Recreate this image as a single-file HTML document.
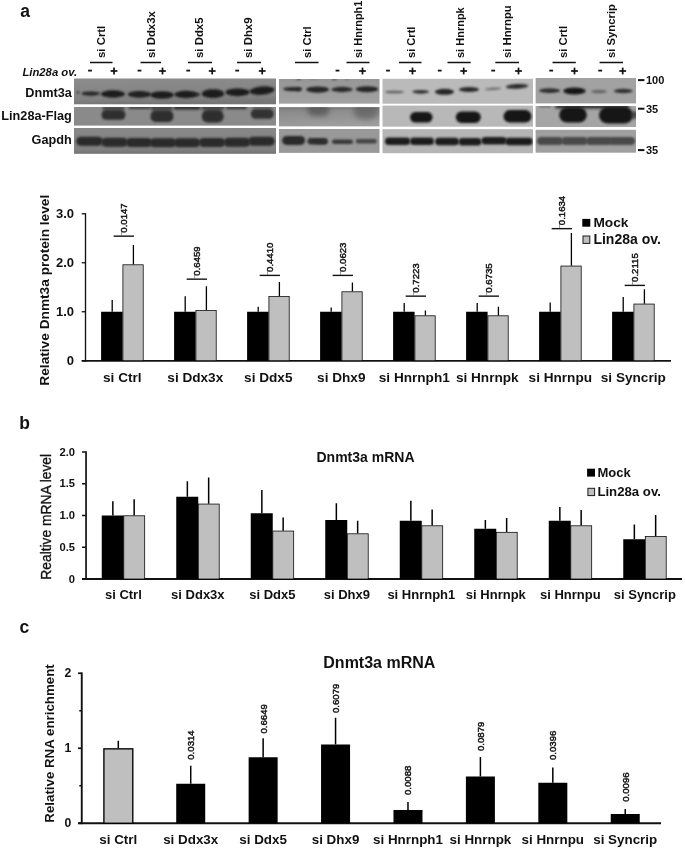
<!DOCTYPE html>
<html lang="en"><head><meta charset="utf-8"><title>Figure</title>
<style>
html,body{margin:0;padding:0;background:#fff;}
body{width:685px;height:849px;overflow:hidden;}
svg{display:block;filter:grayscale(1);font-family:'Liberation Sans', Arial, Helvetica, sans-serif;}
</style></head><body>
<svg width="685" height="849" viewBox="0 0 685 849">
<defs>
<filter id="b1" x="-30%" y="-80%" width="160%" height="260%"><feGaussianBlur stdDeviation="0.9"/></filter>
<filter id="b2" x="-30%" y="-150%" width="160%" height="400%"><feGaussianBlur stdDeviation="1.4"/></filter>
<filter id="b3" x="-40%" y="-100%" width="180%" height="300%"><feGaussianBlur stdDeviation="2.6"/></filter>
<linearGradient id="g21" x1="0" y1="0" x2="0" y2="1"><stop offset="0" stop-color="#969696"/><stop offset="1" stop-color="#a2a2a2"/></linearGradient>
<linearGradient id="g22" x1="0" y1="0" x2="0.3" y2="1"><stop offset="0" stop-color="#858585"/><stop offset="1" stop-color="#9d9d9d"/></linearGradient>
<linearGradient id="g11" x1="0" y1="0" x2="0.15" y2="1"><stop offset="0" stop-color="#8c8c8c"/><stop offset="0.8" stop-color="#828282"/><stop offset="1" stop-color="#767676"/></linearGradient>
<linearGradient id="g13" x1="0" y1="0" x2="0" y2="1"><stop offset="0" stop-color="#888888"/><stop offset="0.8" stop-color="#828282"/><stop offset="1" stop-color="#747474"/></linearGradient>
</defs>
<rect width="685" height="849" fill="#fff"/>
<clipPath id="cp10"><rect x="74.0" y="78.5" width="202.0" height="25.799999999999997"/></clipPath>
<clipPath id="cp11"><rect x="74.0" y="107" width="202.0" height="18.599999999999994"/></clipPath>
<clipPath id="cp12"><rect x="74.0" y="128" width="202.0" height="25.80000000000001"/></clipPath>
<clipPath id="cp20"><rect x="279" y="79" width="100.5" height="24.700000000000003"/></clipPath>
<clipPath id="cp21"><rect x="279" y="107.2" width="100.5" height="19.200000000000003"/></clipPath>
<clipPath id="cp22"><rect x="279" y="129" width="100.5" height="23.900000000000006"/></clipPath>
<clipPath id="cp30"><rect x="382.5" y="78.8" width="150.5" height="24.900000000000006"/></clipPath>
<clipPath id="cp31"><rect x="382.5" y="105.6" width="150.5" height="21.10000000000001"/></clipPath>
<clipPath id="cp32"><rect x="382.5" y="129.2" width="150.5" height="24.0"/></clipPath>
<clipPath id="cp40"><rect x="535.6" y="78" width="100.39999999999998" height="25.400000000000006"/></clipPath>
<clipPath id="cp41"><rect x="535.6" y="106" width="100.39999999999998" height="21"/></clipPath>
<clipPath id="cp42"><rect x="535.6" y="129.8" width="100.39999999999998" height="22.899999999999977"/></clipPath>
<rect x="74.00" y="78.50" width="202.00" height="25.80" fill="url(#g11)"/>
<g clip-path="url(#cp10)">
<rect x="76.90" y="91.40" width="2.20" height="2.20" rx="1.10" fill="#222" opacity="1" filter="url(#b1)"/>
<ellipse cx="90.70" cy="93.60" rx="9.30" ry="2.15" fill="#262626" opacity="1.0" filter="url(#b1)"/>
<ellipse cx="113.00" cy="94.00" rx="12.05" ry="3.65" fill="#1c1c1c" opacity="1.0" filter="url(#b1)"/>
<ellipse cx="139.50" cy="94.40" rx="11.80" ry="3.35" fill="#202020" opacity="1.0" filter="url(#b1)"/>
<ellipse cx="162.00" cy="95.00" rx="11.80" ry="3.75" fill="#1c1c1c" opacity="1.0" filter="url(#b1)"/>
<ellipse cx="186.00" cy="94.50" rx="11.80" ry="3.65" fill="#1c1c1c" opacity="1.0" filter="url(#b1)"/>
<rect x="192.00" y="93.35" width="8.00" height="2.50" rx="1.25" fill="#2a2a2a" opacity="1.0" filter="url(#b1)"/>
<ellipse cx="213.00" cy="93.70" rx="11.30" ry="4.35" fill="#1a1a1a" opacity="1.0" filter="url(#b1)"/>
<ellipse cx="237.50" cy="92.30" rx="12.05" ry="3.85" fill="#1c1c1c" opacity="1.0" filter="url(#b1)"/>
<ellipse cx="262.00" cy="90.60" rx="12.55" ry="4.15" fill="#1a1a1a" opacity="1.0" filter="url(#b1)" transform="rotate(-5 262 90.6)"/>
</g>
<rect x="74.00" y="107.00" width="202.00" height="18.60" fill="#8a8a8a"/>
<g clip-path="url(#cp11)">
<rect x="128.50" y="105.60" width="22.00" height="3.40" rx="1.70" fill="#383838" opacity="0.85" filter="url(#b1)"/>
<rect x="173.50" y="105.50" width="27.00" height="4.20" rx="2.10" fill="#333" opacity="0.95" filter="url(#b1)"/>
<rect x="226.00" y="105.60" width="21.00" height="3.60" rx="1.80" fill="#383838" opacity="0.9" filter="url(#b1)"/>
<rect x="102.50" y="105.70" width="22.00" height="3.00" rx="1.50" fill="#444" opacity="0.7" filter="url(#b1)"/>
<rect x="150.50" y="105.50" width="22.00" height="3.60" rx="1.80" fill="#383838" opacity="0.9" filter="url(#b1)"/>
<rect x="201.50" y="105.50" width="23.00" height="3.60" rx="1.80" fill="#383838" opacity="0.9" filter="url(#b1)"/>
<rect x="252.00" y="105.80" width="20.00" height="2.40" rx="1.20" fill="#444" opacity="0.5" filter="url(#b1)"/>
<rect x="103.00" y="106.00" width="21.00" height="8.00" rx="4.00" fill="#444" opacity="0.75" filter="url(#b2)"/>
<rect x="152.00" y="106.50" width="20.00" height="8.00" rx="4.00" fill="#444" opacity="0.75" filter="url(#b2)"/>
<rect x="203.20" y="106.50" width="19.00" height="8.00" rx="4.00" fill="#444" opacity="0.75" filter="url(#b2)"/>
<rect x="252.80" y="107.00" width="19.00" height="5.00" rx="2.50" fill="#555" opacity="0.5" filter="url(#b2)"/>
<rect x="101.50" y="110.40" width="24.00" height="9.40" rx="4.70" fill="#2e2e2e" opacity="1.0" filter="url(#b1)"/>
<rect x="150.50" y="110.70" width="23.00" height="11.40" rx="5.70" fill="#2e2e2e" opacity="1.0" filter="url(#b1)"/>
<rect x="201.70" y="110.40" width="22.00" height="12.00" rx="6.00" fill="#2e2e2e" opacity="1.0" filter="url(#b1)"/>
<rect x="250.80" y="109.20" width="23.00" height="9.60" rx="4.80" fill="#303030" opacity="1.0" filter="url(#b1)"/>
</g>
<rect x="74.00" y="128.00" width="202.00" height="25.80" fill="url(#g13)"/>
<g clip-path="url(#cp12)">
<rect x="76.25" y="136.80" width="26.50" height="9.00" rx="4.50" fill="#2a2a2a" opacity="1.0" filter="url(#b1)"/>
<rect x="101.25" y="137.80" width="26.50" height="9.00" rx="4.50" fill="#2a2a2a" opacity="1.0" filter="url(#b1)"/>
<rect x="125.75" y="138.10" width="26.50" height="9.00" rx="4.50" fill="#2a2a2a" opacity="1.0" filter="url(#b1)"/>
<rect x="149.75" y="138.30" width="26.50" height="9.00" rx="4.50" fill="#2a2a2a" opacity="1.0" filter="url(#b1)"/>
<rect x="173.75" y="138.30" width="26.50" height="9.00" rx="4.50" fill="#2a2a2a" opacity="1.0" filter="url(#b1)"/>
<rect x="198.75" y="138.10" width="26.50" height="9.00" rx="4.50" fill="#2a2a2a" opacity="1.0" filter="url(#b1)"/>
<rect x="223.75" y="137.70" width="26.50" height="9.00" rx="4.50" fill="#2a2a2a" opacity="1.0" filter="url(#b1)"/>
<rect x="248.25" y="136.70" width="26.50" height="9.00" rx="4.50" fill="#2a2a2a" opacity="1.0" filter="url(#b1)"/>
</g>
<rect x="279.00" y="79.00" width="100.50" height="24.70" fill="url(#g21)"/>
<g clip-path="url(#cp20)">
<ellipse cx="292.60" cy="89.10" rx="9.70" ry="2.15" fill="#2c2c2c" opacity="1.0" filter="url(#b1)"/>
<rect x="296.00" y="87.30" width="5.00" height="4.20" rx="2.10" fill="#2c2c2c" opacity="0.8" filter="url(#b1)"/>
<ellipse cx="317.60" cy="89.60" rx="11.55" ry="3.15" fill="#262626" opacity="1.0" filter="url(#b1)"/>
<ellipse cx="342.00" cy="89.50" rx="10.60" ry="2.65" fill="#2a2a2a" opacity="1.0" filter="url(#b1)"/>
<ellipse cx="367.00" cy="89.20" rx="11.30" ry="2.95" fill="#282828" opacity="1.0" filter="url(#b1)"/>
<rect x="296.50" y="78.30" width="4.00" height="1.80" rx="0.90" fill="#333" opacity="0.9" filter="url(#b1)"/>
<rect x="332.50" y="78.30" width="4.00" height="1.80" rx="0.90" fill="#333" opacity="0.9" filter="url(#b1)"/>
<rect x="345.00" y="78.50" width="4.00" height="1.40" rx="0.70" fill="#555" opacity="0.6" filter="url(#b1)"/>
<rect x="309.00" y="78.60" width="8.00" height="1.20" rx="0.60" fill="#666" opacity="0.5" filter="url(#b1)"/>
</g>
<rect x="279.00" y="107.20" width="100.50" height="19.20" fill="url(#g22)"/>
<g clip-path="url(#cp21)">
<rect x="307.30" y="103.00" width="22.00" height="13.00" rx="6.50" fill="#5c5c5c" opacity="0.9" filter="url(#b3)"/>
<rect x="353.50" y="102.00" width="25.00" height="17.00" rx="8.50" fill="#666" opacity="0.85" filter="url(#b3)"/>
<rect x="278.00" y="105.55" width="104.00" height="2.50" rx="1.25" fill="#555" opacity="0.6" filter="url(#b2)"/>
</g>
<rect x="279.00" y="129.00" width="100.50" height="23.90" fill="#999999"/>
<g clip-path="url(#cp22)">
<rect x="282.10" y="135.90" width="23.00" height="9.00" rx="4.50" fill="#2a2a2a" opacity="1.0" filter="url(#b1)"/>
<rect x="307.60" y="138.00" width="20.00" height="6.40" rx="3.20" fill="#2e2e2e" opacity="1.0" filter="url(#b1)"/>
<rect x="314.50" y="140.00" width="13.00" height="3.40" rx="1.70" fill="#2e2e2e" opacity="0.7" filter="url(#b1)"/>
<rect x="332.00" y="139.40" width="21.00" height="4.60" rx="2.30" fill="#383838" opacity="1.0" filter="url(#b1)"/>
<rect x="355.80" y="139.10" width="21.00" height="4.40" rx="2.20" fill="#444" opacity="1.0" filter="url(#b1)"/>
</g>
<rect x="382.50" y="78.80" width="150.50" height="24.90" fill="#bababa"/>
<g clip-path="url(#cp30)">
<ellipse cx="394.50" cy="92.00" rx="9.55" ry="1.35" fill="#555" opacity="0.9" filter="url(#b1)"/>
<ellipse cx="420.70" cy="91.80" rx="8.30" ry="1.85" fill="#333" opacity="1.0" filter="url(#b1)"/>
<ellipse cx="444.50" cy="91.80" rx="9.55" ry="3.05" fill="#262626" opacity="1.0" filter="url(#b1)"/>
<ellipse cx="469.00" cy="89.50" rx="10.05" ry="2.55" fill="#2a2a2a" opacity="1.0" filter="url(#b1)"/>
<ellipse cx="493.00" cy="88.80" rx="8.55" ry="1.25" fill="#666" opacity="0.9" filter="url(#b1)" transform="rotate(-4 493 88.8)"/>
<ellipse cx="517.00" cy="86.30" rx="11.30" ry="2.35" fill="#2c2c2c" opacity="1.0" filter="url(#b1)" transform="rotate(-3 517 86.3)"/>
</g>
<rect x="382.50" y="105.60" width="150.50" height="21.10" fill="#b8b8b8"/>
<g clip-path="url(#cp31)">
<rect x="410.05" y="111.90" width="22.50" height="10.60" rx="5.30" fill="#161616" opacity="1.0" filter="url(#b1)"/>
<rect x="455.80" y="111.40" width="25.00" height="11.60" rx="5.80" fill="#161616" opacity="1.0" filter="url(#b1)"/>
<rect x="503.50" y="110.10" width="28.00" height="12.40" rx="6.20" fill="#161616" opacity="1.0" filter="url(#b1)"/>
</g>
<rect x="382.50" y="129.20" width="150.50" height="24.00" fill="#b5b5b5"/>
<g clip-path="url(#cp32)">
<rect x="384.95" y="137.50" width="25.30" height="7.60" rx="3.80" fill="#1e1e1e" opacity="1.0" filter="url(#b1)"/>
<rect x="410.00" y="137.50" width="24.00" height="7.60" rx="3.80" fill="#1e1e1e" opacity="1.0" filter="url(#b1)"/>
<rect x="435.00" y="137.70" width="24.00" height="7.60" rx="3.80" fill="#1e1e1e" opacity="1.0" filter="url(#b1)"/>
<rect x="458.60" y="138.00" width="22.80" height="7.60" rx="3.80" fill="#1e1e1e" opacity="1.0" filter="url(#b1)"/>
<rect x="481.35" y="136.90" width="25.30" height="7.60" rx="3.80" fill="#1e1e1e" opacity="1.0" filter="url(#b1)"/>
<rect x="505.25" y="137.70" width="27.50" height="7.60" rx="3.80" fill="#1e1e1e" opacity="1.0" filter="url(#b1)"/>
</g>
<rect x="535.60" y="78.00" width="100.40" height="25.40" fill="#a2a2a2"/>
<g clip-path="url(#cp40)">
<ellipse cx="549.60" cy="90.60" rx="10.55" ry="2.35" fill="#2e2e2e" opacity="1.0" filter="url(#b1)"/>
<ellipse cx="574.50" cy="91.00" rx="11.30" ry="3.55" fill="#181818" opacity="1.0" filter="url(#b1)"/>
<ellipse cx="599.00" cy="91.50" rx="7.80" ry="1.85" fill="#606060" opacity="0.9" filter="url(#b1)"/>
<ellipse cx="623.30" cy="91.00" rx="9.55" ry="2.25" fill="#333" opacity="1.0" filter="url(#b1)"/>
</g>
<rect x="535.60" y="106.00" width="100.40" height="21.00" fill="#a5a5a5"/>
<g clip-path="url(#cp41)">
<rect x="555.00" y="104.40" width="74.00" height="4.00" rx="2.00" fill="#1e1e1e" opacity="0.9" filter="url(#b2)"/>
<rect x="539.00" y="105.30" width="12.00" height="2.00" rx="1.00" fill="#444" opacity="0.6" filter="url(#b1)"/>
<rect x="559.25" y="107.20" width="27.50" height="15.40" rx="7.70" fill="#161616" opacity="1.0" filter="url(#b1)"/>
<rect x="599.00" y="107.00" width="34.00" height="16.40" rx="8.20" fill="#161616" opacity="1.0" filter="url(#b1)"/>
<rect x="631.00" y="111.00" width="7.00" height="8.00" rx="3.50" fill="#333" opacity="0.8" filter="url(#b2)"/>
</g>
<rect x="535.60" y="129.80" width="100.40" height="22.90" fill="#a0a0a0"/>
<g clip-path="url(#cp42)">
<rect x="537.00" y="136.90" width="26.00" height="8.20" rx="4.10" fill="#484848" opacity="1.0" filter="url(#b1)"/>
<rect x="561.50" y="136.90" width="26.00" height="8.20" rx="4.10" fill="#484848" opacity="1.0" filter="url(#b1)"/>
<rect x="586.00" y="136.90" width="26.00" height="8.20" rx="4.10" fill="#484848" opacity="1.0" filter="url(#b1)"/>
<rect x="609.00" y="136.90" width="26.00" height="8.20" rx="4.10" fill="#484848" opacity="1.0" filter="url(#b1)"/>
</g>
<text x="20.3" y="17.2" font-size="17.5" font-weight="bold" text-anchor="start" fill="#111">a</text>
<text x="71.8" y="97" font-size="12.7" font-weight="bold" text-anchor="end" fill="#111">Dnmt3a</text>
<text x="71.8" y="119.8" font-size="12.7" font-weight="bold" text-anchor="end" fill="#111">Lin28a-Flag</text>
<text x="71.8" y="144.4" font-size="12.7" font-weight="bold" text-anchor="end" fill="#111">Gapdh</text>
<text x="22.4" y="76" font-size="11.3" font-weight="bold" text-anchor="start" fill="#111" font-style="italic">Lin28a ov.</text>
<text x="105.3" y="58" font-size="11.4" font-weight="bold" text-anchor="start" fill="#111" transform="rotate(-90 105.3 58)">si Crtl</text>
<line x1="90" y1="62.5" x2="112.5" y2="62.5" stroke="#111" stroke-width="1.5"/>
<text x="154.7" y="58" font-size="11.4" font-weight="bold" text-anchor="start" fill="#111" transform="rotate(-90 154.7 58)">si Ddx3x</text>
<line x1="140.5" y1="62.5" x2="161" y2="62.5" stroke="#111" stroke-width="1.5"/>
<text x="203.3" y="58" font-size="11.4" font-weight="bold" text-anchor="start" fill="#111" transform="rotate(-90 203.3 58)">si Ddx5</text>
<line x1="188" y1="62.5" x2="212" y2="62.5" stroke="#111" stroke-width="1.5"/>
<text x="252.3" y="58" font-size="11.4" font-weight="bold" text-anchor="start" fill="#111" transform="rotate(-90 252.3 58)">si Dhx9</text>
<line x1="237" y1="62.5" x2="261" y2="62.5" stroke="#111" stroke-width="1.5"/>
<text x="310.5" y="58" font-size="11.2" font-weight="bold" text-anchor="start" fill="#111" transform="rotate(-90 310.5 58)">si Ctrl</text>
<line x1="295" y1="62.5" x2="318.5" y2="62.5" stroke="#111" stroke-width="1.5"/>
<text x="361.9" y="58" font-size="11.0" font-weight="bold" text-anchor="start" fill="#111" transform="rotate(-90 361.9 58)">si Hnrnph1</text>
<line x1="346.5" y1="62.5" x2="369.5" y2="62.5" stroke="#111" stroke-width="1.5"/>
<text x="414.5" y="58" font-size="11.1" font-weight="bold" text-anchor="start" fill="#111" transform="rotate(-90 414.5 58)">si Crtl</text>
<line x1="399" y1="62.5" x2="421.5" y2="62.5" stroke="#111" stroke-width="1.5"/>
<text x="463.8" y="58" font-size="11.0" font-weight="bold" text-anchor="start" fill="#111" transform="rotate(-90 463.8 58)">si Hnrnpk</text>
<line x1="447.5" y1="62.5" x2="470.7" y2="62.5" stroke="#111" stroke-width="1.5"/>
<text x="510.6" y="58" font-size="11.3" font-weight="bold" text-anchor="start" fill="#111" transform="rotate(-90 510.6 58)">si Hnrnpu</text>
<line x1="495.3" y1="62.5" x2="519" y2="62.5" stroke="#111" stroke-width="1.5"/>
<text x="567" y="58" font-size="11.3" font-weight="bold" text-anchor="start" fill="#111" transform="rotate(-90 567 58)">si Crtl</text>
<line x1="552.5" y1="62.5" x2="575.8" y2="62.5" stroke="#111" stroke-width="1.5"/>
<text x="615.2" y="58" font-size="11.3" font-weight="bold" text-anchor="start" fill="#111" transform="rotate(-90 615.2 58)">si Syncrip</text>
<line x1="599.6" y1="62.5" x2="623" y2="62.5" stroke="#111" stroke-width="1.5"/>
<line x1="88.1" y1="70.6" x2="91.9" y2="70.6" stroke="#111" stroke-width="1.8"/>
<line x1="110.6" y1="71" x2="117.4" y2="71" stroke="#111" stroke-width="1.7"/>
<line x1="114" y1="67.6" x2="114" y2="74.4" stroke="#111" stroke-width="1.7"/>
<line x1="137.6" y1="70.6" x2="141.4" y2="70.6" stroke="#111" stroke-width="1.8"/>
<line x1="159.1" y1="71" x2="165.9" y2="71" stroke="#111" stroke-width="1.7"/>
<line x1="162.5" y1="67.6" x2="162.5" y2="74.4" stroke="#111" stroke-width="1.7"/>
<line x1="186.29999999999998" y1="70.6" x2="190.1" y2="70.6" stroke="#111" stroke-width="1.8"/>
<line x1="208.79999999999998" y1="71" x2="215.6" y2="71" stroke="#111" stroke-width="1.7"/>
<line x1="212.2" y1="67.6" x2="212.2" y2="74.4" stroke="#111" stroke-width="1.7"/>
<line x1="235.29999999999998" y1="70.6" x2="239.1" y2="70.6" stroke="#111" stroke-width="1.8"/>
<line x1="258.8" y1="71" x2="265.59999999999997" y2="71" stroke="#111" stroke-width="1.7"/>
<line x1="262.2" y1="67.6" x2="262.2" y2="74.4" stroke="#111" stroke-width="1.7"/>
<line x1="335.6" y1="70.6" x2="339.4" y2="70.6" stroke="#111" stroke-width="1.8"/>
<line x1="359.1" y1="71" x2="365.9" y2="71" stroke="#111" stroke-width="1.7"/>
<line x1="362.5" y1="67.6" x2="362.5" y2="74.4" stroke="#111" stroke-width="1.7"/>
<line x1="386.1" y1="70.6" x2="389.9" y2="70.6" stroke="#111" stroke-width="1.8"/>
<line x1="409.1" y1="71" x2="415.9" y2="71" stroke="#111" stroke-width="1.7"/>
<line x1="412.5" y1="67.6" x2="412.5" y2="74.4" stroke="#111" stroke-width="1.7"/>
<line x1="437.8" y1="70.6" x2="441.59999999999997" y2="70.6" stroke="#111" stroke-width="1.8"/>
<line x1="460.3" y1="71" x2="467.09999999999997" y2="71" stroke="#111" stroke-width="1.7"/>
<line x1="463.7" y1="67.6" x2="463.7" y2="74.4" stroke="#111" stroke-width="1.7"/>
<line x1="491.3" y1="70.6" x2="495.09999999999997" y2="70.6" stroke="#111" stroke-width="1.8"/>
<line x1="515.1" y1="71" x2="521.9" y2="71" stroke="#111" stroke-width="1.7"/>
<line x1="518.5" y1="67.6" x2="518.5" y2="74.4" stroke="#111" stroke-width="1.7"/>
<line x1="549.3000000000001" y1="70.6" x2="553.1" y2="70.6" stroke="#111" stroke-width="1.8"/>
<line x1="571.1" y1="71" x2="577.9" y2="71" stroke="#111" stroke-width="1.7"/>
<line x1="574.5" y1="67.6" x2="574.5" y2="74.4" stroke="#111" stroke-width="1.7"/>
<line x1="598.3000000000001" y1="70.6" x2="602.1" y2="70.6" stroke="#111" stroke-width="1.8"/>
<line x1="619.3000000000001" y1="71" x2="626.1" y2="71" stroke="#111" stroke-width="1.7"/>
<line x1="622.7" y1="67.6" x2="622.7" y2="74.4" stroke="#111" stroke-width="1.7"/>
<line x1="638" y1="80.1" x2="644.4" y2="80.1" stroke="#111" stroke-width="2.0"/>
<text x="646" y="84" font-size="11" font-weight="bold" text-anchor="start" fill="#111">100</text>
<line x1="638" y1="108.69999999999999" x2="644.4" y2="108.69999999999999" stroke="#111" stroke-width="2.0"/>
<text x="646" y="112.6" font-size="11" font-weight="bold" text-anchor="start" fill="#111">35</text>
<line x1="638" y1="150.1" x2="644.4" y2="150.1" stroke="#111" stroke-width="2.0"/>
<text x="646" y="154" font-size="11" font-weight="bold" text-anchor="start" fill="#111">35</text>
<line x1="85.5" y1="213.2" x2="85.5" y2="361.65" stroke="#111" stroke-width="1.35"/>
<line x1="81.75" y1="360.9" x2="671" y2="360.9" stroke="#111" stroke-width="1.7"/>
<line x1="81.75" y1="360.75" x2="85.5" y2="360.75" stroke="#111" stroke-width="1.3"/>
<text x="74" y="365.45" font-size="13" font-weight="bold" text-anchor="end" fill="#111">0</text>
<line x1="81.75" y1="311.75" x2="85.5" y2="311.75" stroke="#111" stroke-width="1.3"/>
<text x="74" y="316.45" font-size="13" font-weight="bold" text-anchor="end" fill="#111">1.0</text>
<line x1="81.75" y1="262.75" x2="85.5" y2="262.75" stroke="#111" stroke-width="1.3"/>
<text x="74" y="267.45" font-size="13" font-weight="bold" text-anchor="end" fill="#111">2.0</text>
<line x1="81.75" y1="213.75" x2="85.5" y2="213.75" stroke="#111" stroke-width="1.3"/>
<text x="74" y="218.45" font-size="13" font-weight="bold" text-anchor="end" fill="#111">3.0</text>
<text x="49.2" y="290.2" font-size="13.7" font-weight="bold" text-anchor="middle" fill="#111" transform="rotate(-90 49.2 290.2)">Relative Dnmt3a protein level</text>
<line x1="112.19999999999999" y1="300" x2="112.19999999999999" y2="311.75" stroke="#000" stroke-width="1.3"/>
<line x1="133.39999999999998" y1="245" x2="133.39999999999998" y2="264.5" stroke="#000" stroke-width="1.3"/>
<rect x="101.10" y="311.75" width="21.50" height="49.00" fill="#000"/>
<rect x="122.90" y="264.80" width="20.30" height="95.95" fill="#bfbfbf" stroke="#000" stroke-width="0.75"/>
<line x1="113.64999999999999" y1="236.15" x2="133.95" y2="236.15" stroke="#111" stroke-width="1.4"/>
<line x1="121.55" y1="231.75" x2="121.55" y2="235.75" stroke="#555" stroke-width="0.6"/>
<text x="127.35" y="232.65" font-size="9.6" font-weight="normal" text-anchor="start" fill="#111" transform="rotate(-90 127.35 232.65)" stroke="#111" stroke-width="0.45">0.0147</text>
<text x="122.3" y="382.1" font-size="13.6" font-weight="bold" text-anchor="middle" fill="#111">si Ctrl</text>
<line x1="185.2" y1="296.25" x2="185.2" y2="311.75" stroke="#000" stroke-width="1.3"/>
<line x1="206.39999999999998" y1="286.25" x2="206.39999999999998" y2="310.25" stroke="#000" stroke-width="1.3"/>
<rect x="174.10" y="311.75" width="21.50" height="49.00" fill="#000"/>
<rect x="195.90" y="310.55" width="20.30" height="50.20" fill="#bfbfbf" stroke="#000" stroke-width="0.75"/>
<line x1="186.65" y1="279.15" x2="206.95" y2="279.15" stroke="#111" stroke-width="1.4"/>
<line x1="194.54999999999998" y1="274.75" x2="194.54999999999998" y2="278.75" stroke="#555" stroke-width="0.6"/>
<text x="200.35" y="275.65" font-size="9.6" font-weight="normal" text-anchor="start" fill="#111" transform="rotate(-90 200.35 275.65)" stroke="#111" stroke-width="0.45">0.6459</text>
<text x="195.29999999999998" y="382.1" font-size="13.6" font-weight="bold" text-anchor="middle" fill="#111">si Ddx3x</text>
<line x1="258.2" y1="306.75" x2="258.2" y2="311.75" stroke="#000" stroke-width="1.3"/>
<line x1="279.4" y1="282" x2="279.4" y2="296.25" stroke="#000" stroke-width="1.3"/>
<rect x="247.10" y="311.75" width="21.50" height="49.00" fill="#000"/>
<rect x="268.90" y="296.55" width="20.30" height="64.20" fill="#bfbfbf" stroke="#000" stroke-width="0.75"/>
<line x1="259.65" y1="275.4" x2="279.95" y2="275.4" stroke="#111" stroke-width="1.4"/>
<line x1="267.55" y1="271" x2="267.55" y2="275" stroke="#555" stroke-width="0.6"/>
<text x="273.35" y="271.9" font-size="9.6" font-weight="normal" text-anchor="start" fill="#111" transform="rotate(-90 273.35 271.9)" stroke="#111" stroke-width="0.45">0.4410</text>
<text x="268.3" y="382.1" font-size="13.6" font-weight="bold" text-anchor="middle" fill="#111">si Ddx5</text>
<line x1="331.20000000000005" y1="307.5" x2="331.20000000000005" y2="311.75" stroke="#000" stroke-width="1.3"/>
<line x1="352.40000000000003" y1="282.5" x2="352.40000000000003" y2="291.5" stroke="#000" stroke-width="1.3"/>
<rect x="320.10" y="311.75" width="21.50" height="49.00" fill="#000"/>
<rect x="341.90" y="291.80" width="20.30" height="68.95" fill="#bfbfbf" stroke="#000" stroke-width="0.75"/>
<line x1="332.65000000000003" y1="275.4" x2="352.95000000000005" y2="275.4" stroke="#111" stroke-width="1.4"/>
<line x1="340.55" y1="271" x2="340.55" y2="275" stroke="#555" stroke-width="0.6"/>
<text x="346.35" y="271.9" font-size="9.6" font-weight="normal" text-anchor="start" fill="#111" transform="rotate(-90 346.35 271.9)" stroke="#111" stroke-width="0.45">0.0623</text>
<text x="341.3" y="382.1" font-size="13.6" font-weight="bold" text-anchor="middle" fill="#111">si Dhx9</text>
<line x1="404.20000000000005" y1="303" x2="404.20000000000005" y2="311.75" stroke="#000" stroke-width="1.3"/>
<line x1="425.40000000000003" y1="310.5" x2="425.40000000000003" y2="315.5" stroke="#000" stroke-width="1.3"/>
<rect x="393.10" y="311.75" width="21.50" height="49.00" fill="#000"/>
<rect x="414.90" y="315.80" width="20.30" height="44.95" fill="#bfbfbf" stroke="#000" stroke-width="0.75"/>
<line x1="405.65000000000003" y1="296.15" x2="425.95000000000005" y2="296.15" stroke="#111" stroke-width="1.4"/>
<line x1="413.55" y1="291.75" x2="413.55" y2="295.75" stroke="#555" stroke-width="0.6"/>
<text x="419.35" y="292.65" font-size="9.6" font-weight="normal" text-anchor="start" fill="#111" transform="rotate(-90 419.35 292.65)" stroke="#111" stroke-width="0.45">0.7223</text>
<text x="414.3" y="382.1" font-size="13.6" font-weight="bold" text-anchor="middle" fill="#111">si Hnrnph1</text>
<line x1="477.20000000000005" y1="303" x2="477.20000000000005" y2="311.75" stroke="#000" stroke-width="1.3"/>
<line x1="498.40000000000003" y1="306.75" x2="498.40000000000003" y2="315.5" stroke="#000" stroke-width="1.3"/>
<rect x="466.10" y="311.75" width="21.50" height="49.00" fill="#000"/>
<rect x="487.90" y="315.80" width="20.30" height="44.95" fill="#bfbfbf" stroke="#000" stroke-width="0.75"/>
<line x1="478.65000000000003" y1="296.15" x2="498.95000000000005" y2="296.15" stroke="#111" stroke-width="1.4"/>
<line x1="486.55" y1="291.75" x2="486.55" y2="295.75" stroke="#555" stroke-width="0.6"/>
<text x="492.35" y="292.65" font-size="9.6" font-weight="normal" text-anchor="start" fill="#111" transform="rotate(-90 492.35 292.65)" stroke="#111" stroke-width="0.45">0.6735</text>
<text x="487.3" y="382.1" font-size="13.6" font-weight="bold" text-anchor="middle" fill="#111">si Hnrnpk</text>
<line x1="550.2" y1="302.5" x2="550.2" y2="311.75" stroke="#000" stroke-width="1.3"/>
<line x1="571.4" y1="233" x2="571.4" y2="265.75" stroke="#000" stroke-width="1.3"/>
<rect x="539.10" y="311.75" width="21.50" height="49.00" fill="#000"/>
<rect x="560.90" y="266.05" width="20.30" height="94.70" fill="#bfbfbf" stroke="#000" stroke-width="0.75"/>
<line x1="551.65" y1="228.65" x2="571.95" y2="228.65" stroke="#111" stroke-width="1.4"/>
<line x1="559.5500000000001" y1="224.25" x2="559.5500000000001" y2="228.25" stroke="#555" stroke-width="0.6"/>
<text x="565.35" y="225.15" font-size="9.6" font-weight="normal" text-anchor="start" fill="#111" transform="rotate(-90 565.35 225.15)" stroke="#111" stroke-width="0.45">0.1634</text>
<text x="560.3000000000001" y="382.1" font-size="13.6" font-weight="bold" text-anchor="middle" fill="#111">si Hnrnpu</text>
<line x1="623.2" y1="297" x2="623.2" y2="311.75" stroke="#000" stroke-width="1.3"/>
<line x1="644.4" y1="289.25" x2="644.4" y2="303.75" stroke="#000" stroke-width="1.3"/>
<rect x="612.10" y="311.75" width="21.50" height="49.00" fill="#000"/>
<rect x="633.90" y="304.05" width="20.30" height="56.70" fill="#bfbfbf" stroke="#000" stroke-width="0.75"/>
<line x1="624.65" y1="285.4" x2="644.95" y2="285.4" stroke="#111" stroke-width="1.4"/>
<line x1="632.5500000000001" y1="281" x2="632.5500000000001" y2="285" stroke="#555" stroke-width="0.6"/>
<text x="638.35" y="281.9" font-size="9.6" font-weight="normal" text-anchor="start" fill="#111" transform="rotate(-90 638.35 281.9)" stroke="#111" stroke-width="0.45">0.2115</text>
<text x="633.3000000000001" y="382.1" font-size="13.6" font-weight="bold" text-anchor="middle" fill="#111">si Syncrip</text>
<rect x="582.30" y="218.90" width="8.00" height="7.80" fill="#000"/>
<text x="593.4" y="227.0" font-size="13.7" font-weight="bold" text-anchor="start" fill="#111">Mock</text>
<rect x="583.00" y="236.00" width="6.80" height="7.40" fill="#bfbfbf" stroke="#1a1a1a" stroke-width="1.0"/>
<text x="593.4" y="244" font-size="14.0" font-weight="bold" text-anchor="start" fill="#111">Lin28a ov.</text>
<text x="19.2" y="428.6" font-size="17.5" font-weight="bold" text-anchor="start" fill="#111">b</text>
<line x1="86.05" y1="451.2" x2="86.05" y2="580.0" stroke="#111" stroke-width="1.7"/>
<line x1="82" y1="579.0" x2="682" y2="579.0" stroke="#111" stroke-width="2.1"/>
<line x1="82" y1="579.0" x2="85.75" y2="579.0" stroke="#111" stroke-width="1.5"/>
<text x="75" y="582.7" font-size="11.2" font-weight="bold" text-anchor="end" fill="#111">0</text>
<line x1="82" y1="547.25" x2="85.75" y2="547.25" stroke="#111" stroke-width="1.5"/>
<text x="75" y="550.95" font-size="11.2" font-weight="bold" text-anchor="end" fill="#111">0.5</text>
<line x1="82" y1="515.5" x2="85.75" y2="515.5" stroke="#111" stroke-width="1.5"/>
<text x="75" y="519.2" font-size="11.2" font-weight="bold" text-anchor="end" fill="#111">1.0</text>
<line x1="82" y1="483.75" x2="85.75" y2="483.75" stroke="#111" stroke-width="1.5"/>
<text x="75" y="487.45" font-size="11.2" font-weight="bold" text-anchor="end" fill="#111">1.5</text>
<line x1="82" y1="452.0" x2="85.75" y2="452.0" stroke="#111" stroke-width="1.5"/>
<text x="75" y="455.7" font-size="11.2" font-weight="bold" text-anchor="end" fill="#111">2.0</text>
<text x="51.0" y="516.8" font-size="13.8" font-weight="normal" text-anchor="middle" fill="#111" transform="rotate(-90 51.0 516.8)" stroke="#111" stroke-width="0.35">Realtive mRNA level</text>
<text x="316.5" y="462.2" font-size="14.0" font-weight="bold" text-anchor="start" fill="#111">Dnmt3a mRNA</text>
<line x1="112.85" y1="501.25" x2="112.85" y2="515.5" stroke="#000" stroke-width="1.5"/>
<line x1="134.15" y1="499.25" x2="134.15" y2="515.5" stroke="#000" stroke-width="1.5"/>
<rect x="101.75" y="515.50" width="22.00" height="63.50" fill="#000"/>
<rect x="123.80" y="515.80" width="20.90" height="63.20" fill="#bfbfbf" stroke="#000" stroke-width="0.75"/>
<text x="123.35" y="599.3" font-size="13.0" font-weight="bold" text-anchor="middle" fill="#111">si Ctrl</text>
<line x1="187.35000000000002" y1="481.25" x2="187.35000000000002" y2="496.75" stroke="#000" stroke-width="1.5"/>
<line x1="208.65" y1="477.5" x2="208.65" y2="503.75" stroke="#000" stroke-width="1.5"/>
<rect x="176.25" y="496.75" width="22.00" height="82.25" fill="#000"/>
<rect x="198.30" y="504.05" width="20.90" height="74.95" fill="#bfbfbf" stroke="#000" stroke-width="0.75"/>
<text x="197.85" y="599.3" font-size="13.0" font-weight="bold" text-anchor="middle" fill="#111">si Ddx3x</text>
<line x1="261.85" y1="490" x2="261.85" y2="513.25" stroke="#000" stroke-width="1.5"/>
<line x1="283.15" y1="517.5" x2="283.15" y2="530.75" stroke="#000" stroke-width="1.5"/>
<rect x="250.75" y="513.25" width="22.00" height="65.75" fill="#000"/>
<rect x="272.80" y="531.05" width="20.90" height="47.95" fill="#bfbfbf" stroke="#000" stroke-width="0.75"/>
<text x="272.35" y="599.3" font-size="13.0" font-weight="bold" text-anchor="middle" fill="#111">si Ddx5</text>
<line x1="336.35" y1="503.25" x2="336.35" y2="520" stroke="#000" stroke-width="1.5"/>
<line x1="357.65" y1="520.75" x2="357.65" y2="533.5" stroke="#000" stroke-width="1.5"/>
<rect x="325.25" y="520.00" width="22.00" height="59.00" fill="#000"/>
<rect x="347.30" y="533.80" width="20.90" height="45.20" fill="#bfbfbf" stroke="#000" stroke-width="0.75"/>
<text x="346.85" y="599.3" font-size="13.0" font-weight="bold" text-anchor="middle" fill="#111">si Dhx9</text>
<line x1="410.85" y1="500.75" x2="410.85" y2="520.75" stroke="#000" stroke-width="1.5"/>
<line x1="432.15" y1="509.5" x2="432.15" y2="525.5" stroke="#000" stroke-width="1.5"/>
<rect x="399.75" y="520.75" width="22.00" height="58.25" fill="#000"/>
<rect x="421.80" y="525.80" width="20.90" height="53.20" fill="#bfbfbf" stroke="#000" stroke-width="0.75"/>
<text x="421.35" y="599.3" font-size="13.0" font-weight="bold" text-anchor="middle" fill="#111">si Hnrnph1</text>
<line x1="485.35" y1="520" x2="485.35" y2="528.75" stroke="#000" stroke-width="1.5"/>
<line x1="506.65" y1="518" x2="506.65" y2="532" stroke="#000" stroke-width="1.5"/>
<rect x="474.25" y="528.75" width="22.00" height="50.25" fill="#000"/>
<rect x="496.30" y="532.30" width="20.90" height="46.70" fill="#bfbfbf" stroke="#000" stroke-width="0.75"/>
<text x="495.85" y="599.3" font-size="13.0" font-weight="bold" text-anchor="middle" fill="#111">si Hnrnpk</text>
<line x1="559.8499999999999" y1="507" x2="559.8499999999999" y2="520.75" stroke="#000" stroke-width="1.5"/>
<line x1="581.15" y1="510" x2="581.15" y2="525.5" stroke="#000" stroke-width="1.5"/>
<rect x="548.75" y="520.75" width="22.00" height="58.25" fill="#000"/>
<rect x="570.80" y="525.80" width="20.90" height="53.20" fill="#bfbfbf" stroke="#000" stroke-width="0.75"/>
<text x="570.35" y="599.3" font-size="13.0" font-weight="bold" text-anchor="middle" fill="#111">si Hnrnpu</text>
<line x1="634.3499999999999" y1="524.5" x2="634.3499999999999" y2="539.25" stroke="#000" stroke-width="1.5"/>
<line x1="655.65" y1="515" x2="655.65" y2="536.25" stroke="#000" stroke-width="1.5"/>
<rect x="623.25" y="539.25" width="22.00" height="39.75" fill="#000"/>
<rect x="645.30" y="536.55" width="20.90" height="42.45" fill="#bfbfbf" stroke="#000" stroke-width="0.75"/>
<text x="644.85" y="599.3" font-size="13.0" font-weight="bold" text-anchor="middle" fill="#111">si Syncrip</text>
<rect x="587.10" y="468.70" width="7.90" height="7.90" fill="#000"/>
<text x="597.4" y="477" font-size="13.0" font-weight="bold" text-anchor="start" fill="#111">Mock</text>
<rect x="587.90" y="488.30" width="6.70" height="7.30" fill="#bfbfbf" stroke="#1a1a1a" stroke-width="1.0"/>
<text x="597.4" y="495.7" font-size="13.2" font-weight="bold" text-anchor="start" fill="#111">Lin28a ov.</text>
<text x="19.6" y="633" font-size="17.5" font-weight="bold" text-anchor="start" fill="#111">c</text>
<line x1="81.75" y1="672.4" x2="81.75" y2="824.15" stroke="#111" stroke-width="1.9"/>
<line x1="78" y1="823.25" x2="661" y2="823.25" stroke="#111" stroke-width="1.8"/>
<line x1="78" y1="823.25" x2="81.75" y2="823.25" stroke="#111" stroke-width="1.7"/>
<text x="71.2" y="827.25" font-size="12.2" font-weight="bold" text-anchor="end" fill="#111">0</text>
<line x1="78" y1="748.25" x2="81.75" y2="748.25" stroke="#111" stroke-width="1.7"/>
<text x="71.2" y="752.25" font-size="12.2" font-weight="bold" text-anchor="end" fill="#111">1</text>
<line x1="78" y1="673.25" x2="81.75" y2="673.25" stroke="#111" stroke-width="1.7"/>
<text x="71.2" y="677.25" font-size="12.2" font-weight="bold" text-anchor="end" fill="#111">2</text>
<line x1="79.3" y1="785.75" x2="81.75" y2="785.75" stroke="#111" stroke-width="1.6"/>
<line x1="79.3" y1="710.75" x2="81.75" y2="710.75" stroke="#111" stroke-width="1.6"/>
<text x="54" y="743.5" font-size="13.3" font-weight="bold" text-anchor="middle" fill="#111" transform="rotate(-90 54 743.5)">Relative RNA enrichment</text>
<text x="323.3" y="668" font-size="16" font-weight="bold" text-anchor="start" fill="#111">Dnmt3a mRNA</text>
<line x1="118.3" y1="740.75" x2="118.3" y2="748.25" stroke="#000" stroke-width="1.5"/>
<rect x="103.90" y="748.85" width="28.90" height="74.40" fill="#bfbfbf" stroke="#000" stroke-width="1.35"/>
<text x="118.3" y="844.3" font-size="13.4" font-weight="bold" text-anchor="middle" fill="#111">si Ctrl</text>
<line x1="190.72" y1="765.75" x2="190.72" y2="783.75" stroke="#000" stroke-width="1.5"/>
<rect x="176.22" y="783.75" width="29.00" height="39.50" fill="#000"/>
<text x="194.12" y="759.7" font-size="9.6" font-weight="normal" text-anchor="start" fill="#111" transform="rotate(-90 194.12 759.7)" stroke="#111" stroke-width="0.45">0.0314</text>
<text x="190.72" y="844.3" font-size="13.4" font-weight="bold" text-anchor="middle" fill="#111">si Ddx3x</text>
<line x1="263.14" y1="738.25" x2="263.14" y2="757.25" stroke="#000" stroke-width="1.5"/>
<rect x="248.64" y="757.25" width="29.00" height="66.00" fill="#000"/>
<text x="266.53999999999996" y="733.5" font-size="9.6" font-weight="normal" text-anchor="start" fill="#111" transform="rotate(-90 266.53999999999996 733.5)" stroke="#111" stroke-width="0.45">0.6649</text>
<text x="263.14" y="844.3" font-size="13.4" font-weight="bold" text-anchor="middle" fill="#111">si Ddx5</text>
<line x1="335.56" y1="717.75" x2="335.56" y2="744.5" stroke="#000" stroke-width="1.5"/>
<rect x="321.06" y="744.50" width="29.00" height="78.75" fill="#000"/>
<text x="338.96" y="713" font-size="9.6" font-weight="normal" text-anchor="start" fill="#111" transform="rotate(-90 338.96 713)" stroke="#111" stroke-width="0.45">0.6079</text>
<text x="335.56" y="844.3" font-size="13.4" font-weight="bold" text-anchor="middle" fill="#111">si Dhx9</text>
<line x1="407.98" y1="802" x2="407.98" y2="810" stroke="#000" stroke-width="1.5"/>
<rect x="393.48" y="810.00" width="29.00" height="13.25" fill="#000"/>
<text x="411.38" y="795" font-size="9.6" font-weight="normal" text-anchor="start" fill="#111" transform="rotate(-90 411.38 795)" stroke="#111" stroke-width="0.45">0.0088</text>
<text x="407.98" y="844.3" font-size="13.4" font-weight="bold" text-anchor="middle" fill="#111">si Hnrnph1</text>
<line x1="480.40000000000003" y1="757" x2="480.40000000000003" y2="776.5" stroke="#000" stroke-width="1.5"/>
<rect x="465.90" y="776.50" width="29.00" height="46.75" fill="#000"/>
<text x="483.8" y="751" font-size="9.6" font-weight="normal" text-anchor="start" fill="#111" transform="rotate(-90 483.8 751)" stroke="#111" stroke-width="0.45">0.0879</text>
<text x="480.40000000000003" y="844.3" font-size="13.4" font-weight="bold" text-anchor="middle" fill="#111">si Hnrnpk</text>
<line x1="552.8199999999999" y1="767.5" x2="552.8199999999999" y2="782.75" stroke="#000" stroke-width="1.5"/>
<rect x="538.32" y="782.75" width="29.00" height="40.50" fill="#000"/>
<text x="556.2199999999999" y="760" font-size="9.6" font-weight="normal" text-anchor="start" fill="#111" transform="rotate(-90 556.2199999999999 760)" stroke="#111" stroke-width="0.45">0.0396</text>
<text x="552.8199999999999" y="844.3" font-size="13.4" font-weight="bold" text-anchor="middle" fill="#111">si Hnrnpu</text>
<line x1="625.24" y1="809" x2="625.24" y2="814" stroke="#000" stroke-width="1.5"/>
<rect x="610.74" y="814.00" width="29.00" height="9.25" fill="#000"/>
<text x="628.64" y="801.7" font-size="9.6" font-weight="normal" text-anchor="start" fill="#111" transform="rotate(-90 628.64 801.7)" stroke="#111" stroke-width="0.45">0.0096</text>
<text x="625.24" y="844.3" font-size="13.4" font-weight="bold" text-anchor="middle" fill="#111">si Syncrip</text>
</svg></body></html>
